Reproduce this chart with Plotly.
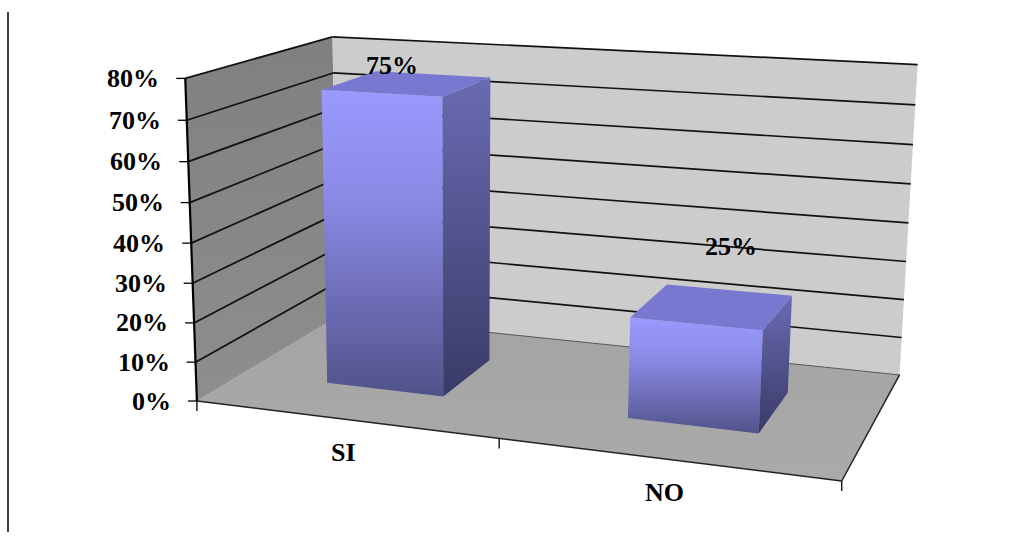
import numpy as np
import plotly.graph_objects as go

# ---------------- data ----------------
categories = ["SI", "NO"]
values = [0.75, 0.25]
value_labels = ["75%", "25%"]
tick_values = [0.0, 0.1, 0.2, 0.3, 0.4, 0.5, 0.6, 0.7, 0.8]
tick_labels = ["0%", "10%", "20%", "30%", "40%", "50%", "60%", "70%", "80%"]

# ---------------- layout / projection setup ----------------
W, H = 1012, 544
YMAX = tick_values[-1]
NCAT = len(categories)
# frame corners (world X=category slot, Y=value, Z=depth) -> screen px
frame_world = [(0, 0, 0), (0, YMAX, 0), (1, 0, 0), (NCAT, 0, 0),
               (0, 0, 1), (0, YMAX, 1), (NCAT, 0, 1), (NCAT, YMAX, 1)]
frame_screen = [(199, 401), (183, 79), (499, 436), (842, 483),
                (335, 318), (335, 36), (900, 374), (917, 65)]
S = 500.0
rows = []
for (X, Y, Z), (u, v) in zip(frame_world, frame_screen):
    u, v = u / S, v / S
    rows.append([X, Y, Z, 1, 0, 0, 0, 0, -u * X, -u * Y, -u * Z, -u])
    rows.append([0, 0, 0, 0, X, Y, Z, 1, -v * X, -v * Y, -v * Z, -v])
_, _, Vt = np.linalg.svd(np.array(rows, dtype=float))
P = Vt[-1].reshape(3, 4)


def proj(X, Y, Z):
    h = P @ np.array([X, Y, Z, 1.0])
    return h[0] / h[2] * S, h[1] / h[2] * S


def poly(pts):
    xs, ys = [], []
    for p in pts:
        u, v = proj(*p)
        xs.append(u)
        ys.append(v)
    xs.append(xs[0])
    ys.append(ys[0])
    return xs, ys


fig = go.Figure()


def add_face(pts, color=None, grad=None, line=None):
    xs, ys = poly(pts)
    kw = dict(x=xs, y=ys, mode="lines", fill="toself",
              line=dict(width=0, color="rgba(0,0,0,0)") if line is None else line,
              hoverinfo="skip", showlegend=False)
    if grad is not None:
        kw["fillgradient"] = dict(type="vertical", colorscale=grad,
                                  start=min(ys), stop=max(ys))
    else:
        kw["fillcolor"] = color
    fig.add_trace(go.Scatter(**kw))


def add_lines(segs, color="black", width=1.5):
    xs, ys = [], []
    for a, b in segs:
        u0, v0 = proj(*a)
        u1, v1 = proj(*b)
        xs += [u0, u1, None]
        ys += [v0, v1, None]
    fig.add_trace(go.Scatter(x=xs, y=ys, mode="lines",
                             line=dict(color=color, width=width),
                             hoverinfo="skip", showlegend=False))


# walls and floor
add_face([(0, 0, 0), (NCAT, 0, 0), (NCAT, 0, 1), (0, 0, 1)],
         grad=[[0, "#a4a4a4"], [1, "#aaaaaa"]])
add_face([(0, 0, 0), (0, YMAX, 0), (0, YMAX, 1), (0, 0, 1)],
         grad=[[0, "#808080"], [1, "#8e8e8e"]])
add_face([(0, 0, 1), (0, YMAX, 1), (NCAT, YMAX, 1), (NCAT, 0, 1)],
         color="#cccccc")

# gridlines
grid = []
for t in tick_values[1:]:
    grid.append(((0, t, 0), (0, t, 1)))
    grid.append(((0, t, 1), (NCAT, t, 1)))
add_lines(grid, "#111111", 1.7)
add_lines([((0, 0, 1), (NCAT, 0, 1))], "#555555", 1.0)

# frame edges
add_lines([((0, 0, 0), (0, YMAX, 0))], "black", 2.2)
add_lines([((0, 0, 0), (NCAT, 0, 0)), ((NCAT, 0, 0), (NCAT, 0, 1))], "#222222", 1.5)

# tick marks
tx, ty = [], []
for t in tick_values:
    u, v = proj(0, t, 0)
    tx += [u - 9, u, None]
    ty += [v, v, None]
for k in range(NCAT + 1):
    u, v = proj(k, 0, 0)
    tx += [u, u, None]
    ty += [v, v + 10, None]
fig.add_trace(go.Scatter(x=tx, y=ty, mode="lines", line=dict(color="black", width=1.3),
                         hoverinfo="skip", showlegend=False))

# bars
GAP = 0.3
front_grad = [[0, "#9a9aff"], [0.35, "#8a8ae6"], [1, "#52528a"]]
side_grad = [[0, "#6a6ab4"], [1, "#3a3a66"]]
top_color = "#7878d0"
for i, v in enumerate(values):
    x0, x1 = i + GAP, i + 1 - GAP
    z0, z1 = GAP, 1 - GAP
    add_face([(x0, 0, z0), (x1, 0, z0), (x1, v, z0), (x0, v, z0)], grad=front_grad)
    add_face([(x1, 0, z0), (x1, 0, z1), (x1, v, z1), (x1, v, z0)], grad=side_grad)
    add_face([(x0, v, z0), (x1, v, z0), (x1, v, z1), (x0, v, z1)], color=top_color)

font = dict(family="Liberation Serif", size=26, color="black", weight="bold")
ann = []
for t, lab in zip(tick_values, tick_labels):
    u, v = proj(0, t, 0)
    ann.append(dict(x=u, y=v, text=lab, showarrow=False, xanchor="right",
                    yanchor="middle", xshift=-24, font=font))
for i, c in enumerate(categories):
    u, v = proj(i + 0.5, 0, 0)
    ann.append(dict(x=u, y=v, text=c, showarrow=False, xanchor="center",
                    yanchor="middle", xshift=0, yshift=-33, font=font))
label_shift = [(-16, 18), (18, 60)]
for i, (v, lab) in enumerate(zip(values, value_labels)):
    u, vv = proj(i + 0.5, v, 0.5)
    ann.append(dict(x=u, y=vv, text=lab, showarrow=False, xanchor="center",
                    yanchor="middle", xshift=label_shift[i][0],
                    yshift=label_shift[i][1], font=font))

fig.update_layout(
    width=W, height=H, margin=dict(l=0, r=0, t=0, b=0),
    paper_bgcolor="white", plot_bgcolor="white",
    xaxis=dict(range=[0, W], visible=False, fixedrange=True),
    yaxis=dict(range=[H, 0], visible=False, fixedrange=True),
    annotations=ann,
    shapes=[dict(type="line", xref="x", yref="y", x0=8, x1=8, y0=12, y1=532,
                 line=dict(color="black", width=1.5))],
)
fig.write_html("out.html")
